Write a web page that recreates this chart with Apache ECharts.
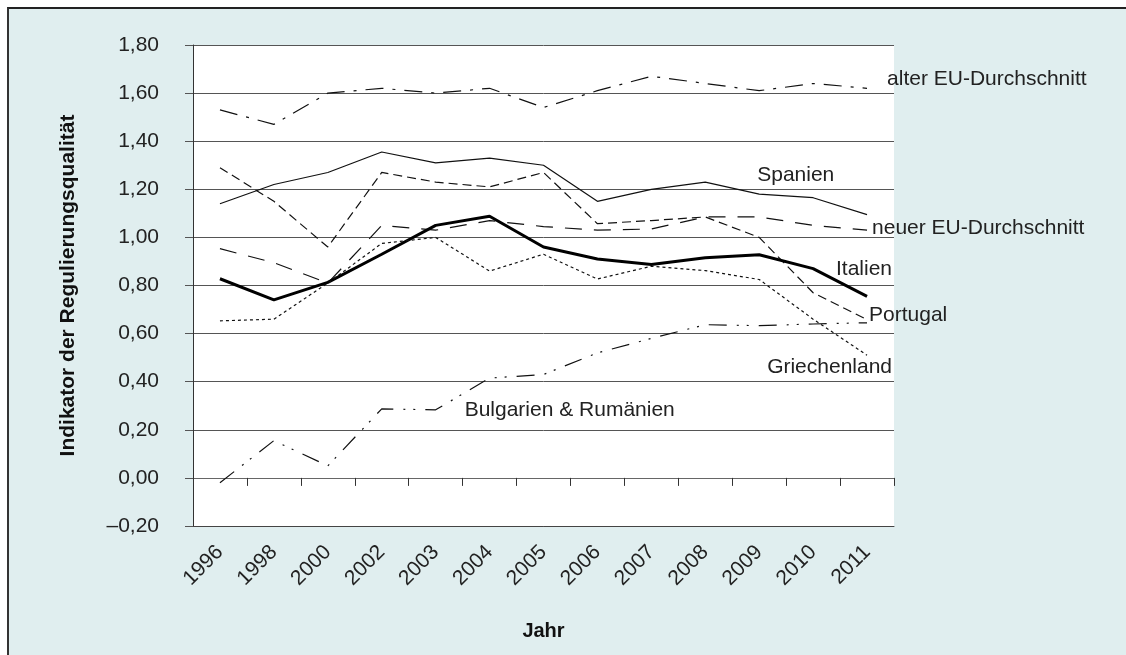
<!DOCTYPE html>
<html>
<head>
<meta charset="utf-8">
<script src="https://cdn.jsdelivr.net/npm/echarts@6/dist/echarts.min.js"></script>
<style>
  html, body { margin: 0; padding: 0; background: #fff; }
  #frame {
    position: absolute; left: 7px; top: 7px; right: 0; bottom: 0;
    background: #e0eeef;
    border-top: 2px solid #222; border-left: 2px solid #333;
  }
  #chart { position: absolute; left: 0; top: 0; width: 1126px; height: 655px; }
</style>
</head>
<body>
<div id="frame"></div>
<div id="chart"></div>
<script>
// Jahre
const years = ['1996', '1998', '2000', '2002', '2003', '2004', '2005', '2006', '2007', '2008', '2009', '2010', '2011']

// Indikator der Regulierungsqualität
const alterEU = [1.53, 1.47, 1.60, 1.62, 1.60, 1.62, 1.54, 1.61, 1.67, 1.64, 1.61, 1.64, 1.62]
const spanien = [1.14, 1.22, 1.27, 1.355, 1.31, 1.33, 1.30, 1.15, 1.20, 1.23, 1.18, 1.165, 1.095]
const portugal = [1.29, 1.15, 0.96, 1.27, 1.23, 1.21, 1.27, 1.057, 1.07, 1.085, 1.00, 0.77, 0.658]
const neuerEU = [0.953, 0.895, 0.81, 1.05, 1.03, 1.07, 1.045, 1.03, 1.035, 1.085, 1.085, 1.05, 1.03]
const italien = [0.828, 0.74, 0.813, 0.93, 1.05, 1.088, 0.96, 0.91, 0.887, 0.915, 0.928, 0.87, 0.755]
const griechenland = [0.653, 0.66, 0.81, 0.975, 1.00, 0.86, 0.93, 0.827, 0.88, 0.862, 0.825, 0.66, 0.51]
const bulgRum = [-0.02, 0.155, 0.05, 0.287, 0.283, 0.415, 0.43, 0.52, 0.58, 0.637, 0.633, 0.64, 0.645]

const yTicks = { min: -0.2, max: 1.8, step: 0.2 }

const FONT = 'Liberation Sans, Arial, sans-serif'
const TXT = '#222'
const FS = 21

function fmt(v) {
  const s = Math.abs(v).toFixed(2).replace('.', ',')
  return v < -1e-9 ? '\u2013' + s : s
}

// text label placed at a data coordinate
function tag(text, coord, align, dx) {
  return {
    symbol: 'circle',
    symbolSize: 1,
    itemStyle: { color: 'rgba(0,0,0,0)' },
    label: {
      show: true,
      position: 'inside',
      align: align,
      verticalAlign: 'middle',
      offset: [dx, 0],
      formatter: text,
      color: TXT,
      fontSize: FS,
      fontFamily: FONT
    },
    data: [{ coord: coord }]
  }
}

function line(name, data, style, mark) {
  return {
    name: name,
    type: 'line',
    data: data,
    symbol: 'none',
    silent: true,
    lineStyle: Object.assign({ color: '#111', width: 1.2 }, style),
    markPoint: mark
  }
}

const chart = echarts.init(document.getElementById('chart'))
chart.setOption({
  animation: false,
  textStyle: { fontFamily: FONT },
  grid: {
    left: 193, right: 232, top: 45, bottom: 129,
    show: true, backgroundColor: '#fff', borderWidth: 0
  },
  xAxis: [{
    type: 'category',
    data: years,
    position: 'bottom',
    axisLine: { onZero: false, lineStyle: { color: '#444', width: 1 } },
    axisTick: { show: false },
    axisLabel: { rotate: 45, margin: 23, fontSize: FS, color: TXT, fontFamily: FONT },
    name: 'Jahr',
    nameLocation: 'middle',
    nameGap: 95,
    nameTextStyle: { fontSize: 20, fontWeight: 'bold', color: '#111', fontFamily: FONT }
  }, {
    type: 'category',
    data: years,
    position: 'top',
    axisLine: { onZero: true, lineStyle: { color: '#666', width: 1.2 } },
    axisTick: { show: true, inside: true, length: 8, lineStyle: { color: '#333' } },
    axisLabel: { show: false }
  }],
  yAxis: {
    type: 'value',
    min: yTicks.min,
    max: yTicks.max,
    interval: yTicks.step,
    axisLine: { show: true, lineStyle: { color: '#333', width: 1 } },
    axisTick: { show: true, length: 8, lineStyle: { color: '#555' } },
    splitLine: { lineStyle: { color: '#555', width: 1 } },
    axisLabel: { formatter: fmt, margin: 34, fontSize: FS, color: TXT, fontFamily: FONT },
    name: 'Indikator der Regulierungsqualität',
    nameLocation: 'middle',
    nameGap: 114,
    nameTextStyle: { fontSize: 21, fontWeight: 'bold', color: '#111', fontFamily: FONT }
  },
  series: [
    line('alter EU-Durchschnitt', alterEU, { type: [18, 9, 3, 9] },
      tag('alter EU-Durchschnitt', ['2011', 1.657], 'left', 20)),
    line('Spanien', spanien, {},
      tag('Spanien', ['2009', 1.26], 'left', -2)),
    line('Portugal', portugal, { type: [9, 5] },
      tag('Portugal', ['2011', 0.678], 'left', 2)),
    line('neuer EU-Durchschnitt', neuerEU, { type: [17, 12] },
      tag('neuer EU-Durchschnitt', ['2011', 1.04], 'left', 5)),
    line('Italien', italien, { width: 3, color: '#000' },
      tag('Italien', ['2011', 0.866], 'right', 25)),
    line('Griechenland', griechenland, { type: [3, 3] },
      tag('Griechenland', ['2011', 0.46], 'right', 25)),
    line('Bulgarien & Rumänien', bulgRum, { type: [18, 10, 2, 8, 2, 10] },
      tag('Bulgarien & Rumänien', ['2003', 0.283], 'left', 29))
  ]
})
</script>
</body>
</html>
